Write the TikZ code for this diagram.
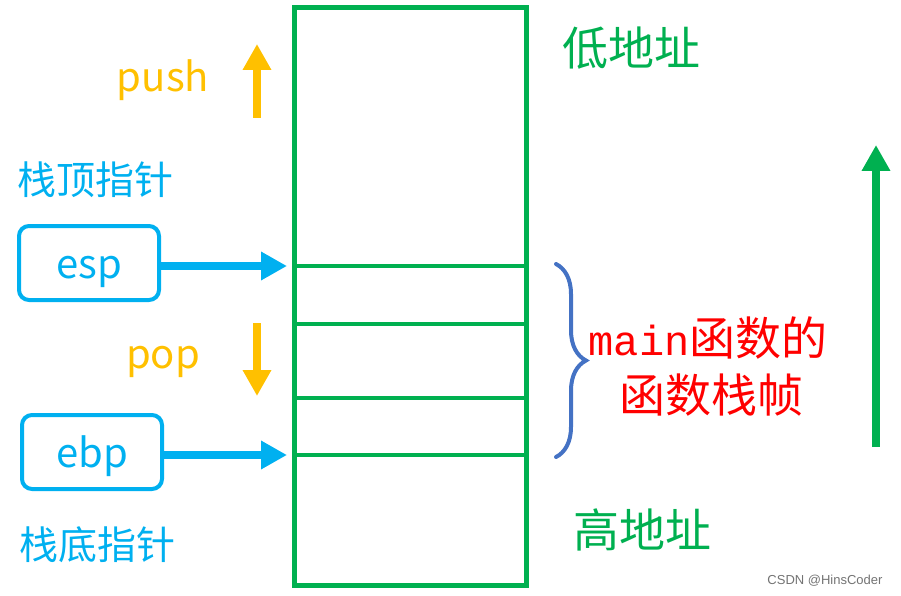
\documentclass[tikz,border=0pt]{standalone}
\usepackage{fontspec}
\newfontfamily\cjk{Noto Sans CJK SC}
\newfontfamily\monofnt{Liberation Mono}
\newfontfamily\wmfont{Liberation Sans}
\usetikzlibrary{arrows.meta, decorations.pathreplacing}
\definecolor{stackgreen}{HTML}{00B050}
\definecolor{ptrblue}{HTML}{00B0F0}
\definecolor{opyellow}{HTML}{FFC000}
\definecolor{bracecol}{HTML}{4472C4}

\begin{document}
\begin{tikzpicture}[
  x=1pt, y=-1pt,
  ptr/.style={rectangle, draw=ptrblue, line width=4pt, rounded corners=10pt, minimum width=140pt, minimum height=74pt, inner sep=0pt, text height=30pt, text depth=0pt, text=ptrblue, font=\cjk\fontsize{40}{48}\selectfont},
  lbl/.style={inner sep=0pt, font=\cjk\fontsize{39}{46}\selectfont},
  big/.style={inner sep=0pt, font=\cjk\fontsize{46}{54}\selectfont},
  arr/.style={line width=8pt, -{Triangle[length=26pt, width=27pt]}},
  wall/.style={draw=stackgreen, line width=5pt},
  row/.style={draw=stackgreen, line width=4pt}
]
  \useasboundingbox (0,0) rectangle (901,596);

  % Stack
  \draw[wall] (294,8) coordinate (stktop) rectangle (526,585) coordinate (stkbot);
  \foreach \y/\n in {266/r1, 324/r2, 398/r3, 455/r4} {
    \draw[row] (294,\y) coordinate (\n) -- (526,\y);
  }

  % Nodes
  \node[lbl, text=opyellow, font=\cjk\fontsize{40}{48}\selectfont] (push) at (163,80) {push};
  \node[lbl, text=ptrblue] (topptr) at (95,180) {栈顶指针};
  \node[ptr] (esp) at (89,263) {esp};
  \node[lbl, text=opyellow, font=\cjk\fontsize{40}{48}\selectfont] (pop) at (163,362) {pop};
  \node[ptr] (ebp) at (92,452) {ebp};
  \node[lbl, text=ptrblue] (botptr) at (97,545) {栈底指针};

  \node[big, text=stackgreen] (lowaddr) at (631,48) {低地址};
  \node[big, text=stackgreen] (highaddr) at (642,530) {高地址};
  \node[big, text=red] (frame1) at (708,338) {{\monofnt\fontsize{42}{50}\selectfont main}函数的};
  \node[big, text=red] (frame2) at (711,395) {函数栈帧};
  \node[inner sep=0pt, text=black!55, font=\wmfont\fontsize{13}{15}\selectfont] (mark) at (825,581) {CSDN @HinsCoder};

  % Flows
  \coordinate (pushbot) at (257,118);
  \coordinate (pushtip) at (257,44);
  \coordinate (poptop) at (257,323);
  \coordinate (poptip) at (257,396);
  \coordinate (lowend) at (876,447);
  \coordinate (lowtip) at (876,145);
  \draw[arr, opyellow] (pushbot) -- (pushtip);
  \draw[arr, opyellow] (poptop) -- (poptip);
  \draw[arr, stackgreen] (lowend) -- (lowtip);
  \draw[arr, ptrblue, shorten >=7pt] (esp.east |- r1) -- (r1);
  \draw[arr, ptrblue, shorten >=7pt] (ebp.east |- r4) -- (r4);

  % Brace
  \coordinate (bracetop) at (556,264);
  \coordinate (bracebot) at (556,457);
  \draw[bracecol, line width=4pt, line cap=round, decorate, decoration={brace, amplitude=30pt}] (bracetop) -- (bracebot);
\end{tikzpicture}
\end{document}
